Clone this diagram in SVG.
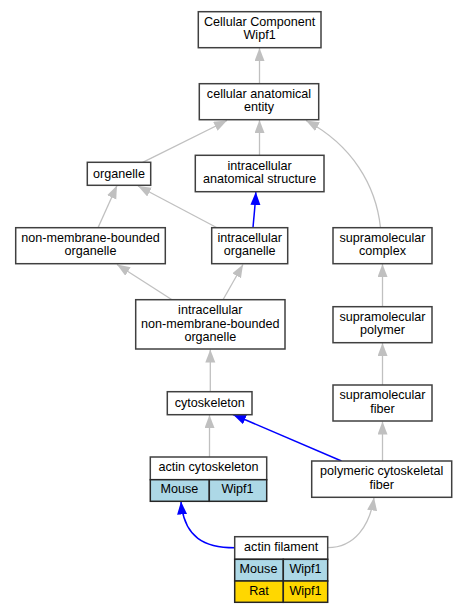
<svg xmlns="http://www.w3.org/2000/svg" width="467" height="613" viewBox="0 0 467 613">
<style>
.n{fill:#fff;stroke:#404040;stroke-width:1.5}
.m{fill:#add8e6;stroke:#262626;stroke-width:1.5}
.r{fill:#ffd700;stroke:#262626;stroke-width:1.5}
text{font-family:"Liberation Sans",Arial,sans-serif;font-size:12.6px;fill:#000;text-anchor:middle}
.g{fill:none;stroke:#c0c0c0;stroke-width:1.3}
.b{fill:none;stroke:#0000ff;stroke-width:1.5}
</style>
<defs>
<marker id="ag" markerUnits="userSpaceOnUse" markerWidth="14" markerHeight="11" refX="13" refY="5" orient="auto"><path d="M0,0 L13,5 L0,10 z" fill="#c0c0c0"/></marker>
<marker id="ab" markerUnits="userSpaceOnUse" markerWidth="14" markerHeight="11" refX="13" refY="5" orient="auto"><path d="M0,0 L13,5 L0,10 z" fill="#0000ff"/></marker>
</defs>
<rect width="467" height="613" fill="#fff"/>
<g id="edges">
<path class="g" marker-end="url(#ag)" d="M259.5,83.7 L259.5,48"/>
<path class="g" marker-end="url(#ag)" d="M142.7,162.3 L227,120.5"/>
<path class="g" marker-end="url(#ag)" d="M259.5,155.3 L259.5,120"/>
<path class="g" marker-end="url(#ag)" d="M380.5,227.7 C376,185 352,145 306,120.5"/>
<path class="g" marker-end="url(#ag)" d="M98,227.7 L117,185.5"/>
<path class="g" marker-end="url(#ag)" d="M217,227.7 L138,186"/>
<path class="b" marker-end="url(#ab)" d="M253,227.7 C254,215 255.5,203 255.8,192"/>
<path class="g" marker-end="url(#ag)" d="M172,299.7 L117,264.5"/>
<path class="g" marker-end="url(#ag)" d="M223,299.7 L243,264.5"/>
<path class="g" marker-end="url(#ag)" d="M210.3,391.7 L210.3,349.5"/>
<path class="g" marker-end="url(#ag)" d="M382.5,306.7 L382.5,264"/>
<path class="g" marker-end="url(#ag)" d="M382.5,385 L382.5,343"/>
<path class="g" marker-end="url(#ag)" d="M209.5,457 L209.5,415"/>
<path class="b" marker-end="url(#ab)" d="M341.5,461 L233,414.5"/>
<path class="g" marker-end="url(#ag)" d="M382.5,461 L382.5,421.5"/>
<path class="b" marker-end="url(#ab)" d="M234.7,547.7 C205,547.7 184,538 181,501.5"/>
<path class="g" marker-end="url(#ag)" d="M327.7,547.7 C355,547.7 370,525 374,497.5"/>
</g>
<g id="n_cc"><rect class="n" x="198.3" y="11.7" width="122.7" height="36"/><text x="259.6" y="26">Cellular Component</text><text x="259.6" y="39">Wipf1</text></g>
<g id="n_cae"><rect class="n" x="199.3" y="83.7" width="119.4" height="36"/><text x="259" y="98.4">cellular anatomical</text><text x="259" y="111.4">entity</text></g>
<g id="n_org"><rect class="n" x="87.3" y="162.3" width="63.4" height="23"/><text x="119" y="178">organelle</text></g>
<g id="n_ias"><rect class="n" x="195.3" y="155.3" width="128.7" height="36.4"/><text x="259.6" y="170.4">intracellular</text><text x="259.6" y="183.4">anatomical structure</text></g>
<g id="n_nmbo"><rect class="n" x="15.7" y="227.7" width="149.6" height="36"/><text x="90.5" y="242.4">non-membrane-bounded</text><text x="90.5" y="255.2">organelle</text></g>
<g id="n_io"><rect class="n" x="211.7" y="227.7" width="76" height="36"/><text x="249.7" y="242.4">intracellular</text><text x="249.7" y="255.2">organelle</text></g>
<g id="n_sc"><rect class="n" x="333" y="227.7" width="99" height="36"/><text x="382.5" y="242.4">supramolecular</text><text x="382.5" y="255.2">complex</text></g>
<g id="n_inmbo"><rect class="n" x="135.7" y="299.7" width="149.3" height="49.3"/><text x="210.3" y="314">intracellular</text><text x="210.3" y="327.5">non-membrane-bounded</text><text x="210.3" y="341">organelle</text></g>
<g id="n_sp"><rect class="n" x="333" y="306.7" width="99" height="36"/><text x="382.5" y="321">supramolecular</text><text x="382.5" y="333.7">polymer</text></g>
<g id="n_cyto"><rect class="n" x="167.3" y="391.7" width="84.7" height="23"/><text x="209.7" y="407.4">cytoskeleton</text></g>
<g id="n_sf"><rect class="n" x="333" y="385" width="99" height="36"/><text x="382.5" y="398.7">supramolecular</text><text x="382.5" y="412.7">fiber</text></g>
<g id="n_pcf"><rect class="n" x="311.7" y="461" width="140" height="36.3"/><text x="381.7" y="475">polymeric cytoskeletal</text><text x="381.7" y="488.7">fiber</text></g>
<g id="n_ac"><rect class="n" x="150.3" y="457" width="116.4" height="22.7"/><text x="208.5" y="471">actin cytoskeleton</text><rect class="m" x="150.3" y="479.7" width="59" height="21.6"/><rect class="m" x="209.3" y="479.7" width="57.4" height="21.6"/><text x="179.3" y="493">Mouse</text><text x="237.5" y="493">Wipf1</text></g>
<g id="n_af"><rect class="n" x="234.7" y="536.7" width="93" height="22.6"/><text x="281.2" y="551">actin filament</text><rect class="m" x="234.7" y="559.3" width="48.6" height="21.7"/><rect class="m" x="283.3" y="559.3" width="44.4" height="21.7"/><text x="258.5" y="572.6">Mouse</text><text x="305.5" y="572.6">Wipf1</text><rect class="r" x="234.7" y="581" width="48.6" height="21.3"/><rect class="r" x="283.3" y="581" width="44.4" height="21.3"/><text x="259" y="595">Rat</text><text x="305.5" y="595">Wipf1</text></g>
</svg>
